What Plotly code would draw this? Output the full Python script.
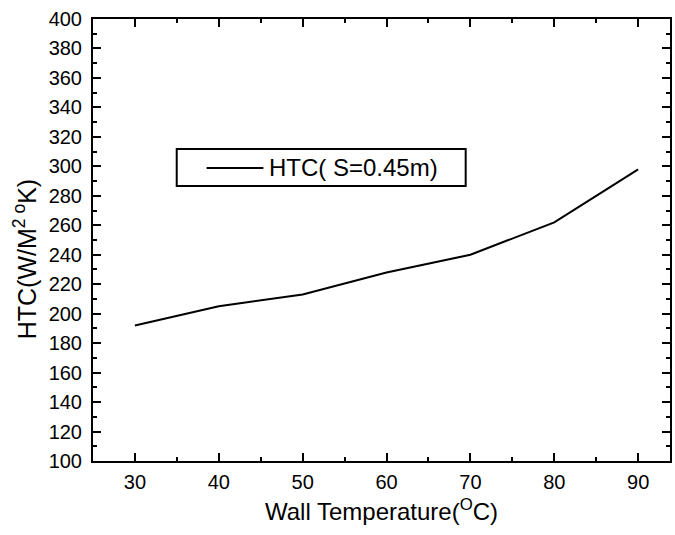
import plotly.graph_objects as go

wall_temp = [30, 40, 50, 60, 70, 80, 85, 90]
htc = [192, 205, 213, 228, 240, 262, 280, 298]
series_name = "HTC( S=0.45m)"
x_title = "Wall Temperature(<sup>O</sup>C)"
y_title = "HTC(W/M<sup>2 o</sup>K)"

font_family = "Arial, 'Liberation Sans', sans-serif"

fig = go.Figure()
fig.add_trace(go.Scatter(
    x=wall_temp, y=htc, mode="lines", name=series_name,
    line=dict(color="black", width=2),
    showlegend=False,
))

axis_common = dict(
    showline=True, linecolor="black", linewidth=2, mirror="allticks",
    ticks="inside", ticklen=8, tickwidth=2, tickcolor="black",
    showgrid=False, zeroline=False,
    tickfont=dict(family=font_family, size=20, color="black"),
)

fig.update_xaxes(
    range=[25, 93.8], tickmode="array", tickvals=[30, 40, 50, 60, 70, 80, 90],
    minor=dict(ticks="inside", ticklen=4, tickwidth=1.5, tickcolor="black", dtick=5, tick0=0),
    ticklabelstandoff=2,
    title=dict(text=x_title, font=dict(family=font_family, size=24, color="black"), standoff=11),
    **axis_common,
)
fig.update_yaxes(
    range=[100, 400], dtick=20, tick0=100,
    minor=dict(ticks="inside", ticklen=4, tickwidth=1.5, tickcolor="black", dtick=10, tick0=100),
    ticklabelstandoff=5,
    **axis_common,
)

# Y axis title, placed slightly below the plot centre as in the reference
fig.add_annotation(xref="paper", yref="paper", x=-0.1174, y=0.457,
                   xanchor="center", yanchor="middle", textangle=-90, showarrow=False,
                   text=y_title, font=dict(family=font_family, size=25, color="black"))

# Legend drawn as a framed box with a line sample and label (paper coordinates)
leg_x0, leg_x1, leg_y0, leg_y1 = 0.1451, 0.6459, 0.6222, 0.7059
leg_line_x0, leg_line_x1, leg_mid_y = 0.1969, 0.2953, 0.6629
leg_text_x = 0.3022

fig.add_shape(type="rect", xref="paper", yref="paper",
              x0=leg_x0, x1=leg_x1, y0=leg_y0, y1=leg_y1,
              line=dict(color="black", width=2), fillcolor="white", layer="above")
fig.add_shape(type="line", xref="paper", yref="paper",
              x0=leg_line_x0, x1=leg_line_x1, y0=leg_mid_y, y1=leg_mid_y,
              line=dict(color="black", width=2), layer="above")
fig.add_annotation(xref="paper", yref="paper", x=leg_text_x, y=leg_mid_y,
                   xanchor="left", yanchor="middle", showarrow=False,
                   text=series_name, font=dict(family=font_family, size=24, color="black"))

fig.update_layout(
    width=675, height=535,
    margin=dict(l=93, r=3, t=19, b=74),
    paper_bgcolor="white", plot_bgcolor="white",
    font=dict(family=font_family, color="black"),
    showlegend=False,
)

fig.write_html("out.html")
